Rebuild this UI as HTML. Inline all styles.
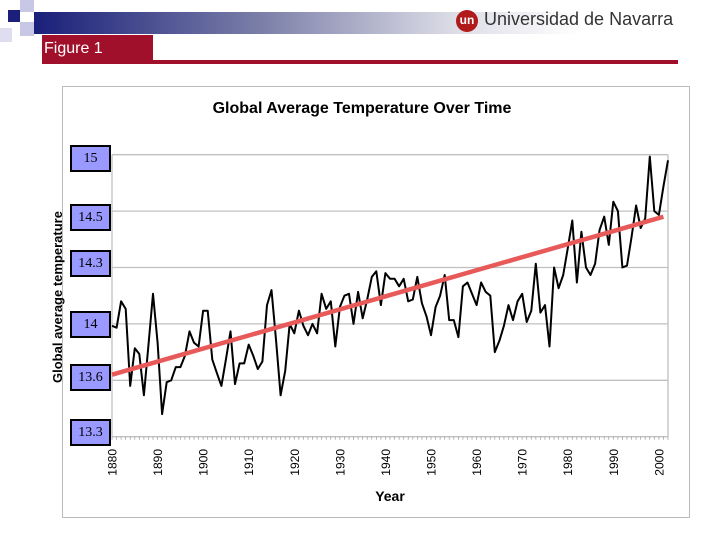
<!DOCTYPE html>
<html><head><meta charset="utf-8"><style>
body{margin:0;width:720px;height:540px;background:#fff;overflow:hidden;position:relative;font-family:"Liberation Sans",sans-serif}
.sq{position:absolute}
.lbl{position:absolute;left:70px;width:37px;height:23px;background:#9999ff;border:2px solid #000;font-family:"Liberation Serif",serif;font-size:14px;line-height:23px;text-align:center;color:#000}
</style></head><body>
<div class="sq" style="left:8px;top:10px;width:12px;height:12px;background:#1a1f7a"></div>
<div class="sq" style="left:20px;top:0;width:14px;height:12px;background:#c8c8e6"></div>
<div class="sq" style="left:20px;top:22px;width:14px;height:14px;background:#c8c8e6"></div>
<div class="sq" style="left:0;top:28px;width:12px;height:14px;background:#dedef0"></div>
<div style="position:absolute;left:34px;top:12px;width:644px;height:22px;background:linear-gradient(90deg,#1a1f7a 0%,#7a7ea8 35%,#dcdce6 65%,#fff 85%)"></div>
<div style="position:absolute;left:456px;top:10px;width:22px;height:22px;border-radius:50%;background:#b01a1a;color:#fff;font-size:12px;font-weight:bold;line-height:21px;text-align:center">un</div>
<div style="position:absolute;left:484px;top:9px;font-size:18px;color:#333">Universidad de Navarra</div>
<div style="position:absolute;left:42px;top:35px;width:109px;height:27px;background:#a0102a;color:#fff;font-size:16px;line-height:28px;padding-left:2px">Figure 1</div>
<div style="position:absolute;left:42px;top:60px;width:636px;height:4px;background:#a0102a"></div>
<div style="position:absolute;left:62px;top:86px;width:628px;height:432px;border:1px solid #bbb;box-sizing:border-box"></div>
<svg id="chart" width="720" height="540" style="position:absolute;left:0;top:0"></svg>
<div class="lbl" style="top:145px">15</div>
<div class="lbl" style="top:204px">14.5</div>
<div class="lbl" style="top:250px">14.3</div>
<div class="lbl" style="top:311px">14</div>
<div class="lbl" style="top:364px">13.6</div>
<div class="lbl" style="top:419px">13.3</div>
<script>
const startYear=1880;
const temps=[14.09,14.08,14.22,14.18,13.77,13.97,13.94,13.72,13.99,14.26,14.00,13.62,13.79,13.80,13.87,13.87,13.93,14.06,14.00,13.98,14.17,14.17,13.91,13.84,13.77,13.91,14.06,13.78,13.89,13.89,13.99,13.93,13.86,13.90,14.20,14.28,14.01,13.72,13.85,14.10,14.05,14.17,14.09,14.04,14.10,14.05,14.26,14.18,14.22,13.98,14.19,14.25,14.26,14.10,14.27,14.13,14.23,14.35,14.38,14.20,14.37,14.34,14.34,14.30,
14.34,14.22,14.23,14.35,14.21,14.14,14.04,14.19,14.25,14.36,14.12,14.12,14.03,14.30,14.32,14.26,14.20,14.32,14.27,14.25,13.95,14.01,14.09,14.20,14.12,14.22,14.26,14.11,14.17,14.42,14.16,14.20,13.98,14.40,14.29,14.36,14.50,14.65,14.32,14.59,14.40,14.36,14.42,14.60,14.67,14.52,14.75,14.70,14.40,14.41,14.56,14.73,14.61,14.66,14.99,14.70,14.68,14.83,14.97];
const trendYears=[1880,2001];
const trendValues=[13.83,14.67];
const xTicks=[1880,1890,1900,1910,1920,1930,1940,1950,1960,1970,1980,1990,2000];
const yGrid=[13.5,13.8,14.1,14.4,14.7,15.0];
const NS='http://www.w3.org/2000/svg';
const svg=document.getElementById('chart');
const L=112,R=668,T=154.7,B=436.7;
const x=y=>L+(y-1880)*(R-L)/122;
const yv=v=>B-(v-13.5)*(B-T)/1.5;
function mk(t,a){const e=document.createElementNS(NS,t);for(const k in a)e.setAttribute(k,a[k]);svg.appendChild(e);return e;}
yGrid.forEach(v=>{const e=mk('line',{x1:L,x2:R,y1:yv(v),y2:yv(v),stroke:'#c0c0c0','stroke-width':1.3});

});
let e=mk('line',{x1:L,x2:L,y1:T,y2:B,stroke:'#c0c0c0','stroke-width':1.3});


e=mk('line',{x1:R,x2:R,y1:T,y2:B,stroke:'#c0c0c0','stroke-width':1.3});


for(let yr=1880;yr<=2002;yr++){const t=mk('line',{x1:x(yr),x2:x(yr),y1:B,y2:B+3,stroke:'#999','stroke-width':0.7});

}
xTicks.forEach(yr=>{const t=mk('text',{x:0,y:0,transform:`translate(${x(yr)+4.5},449) rotate(-90)`,'text-anchor':'end','font-size':12,fill:'#000','font-family':'Liberation Sans, sans-serif'});t.textContent=yr;

});
const pts=temps.map((v,i)=>x(startYear+i).toFixed(1)+','+yv(v).toFixed(1)).join(' ');
e=mk('polyline',{points:pts,fill:'none',stroke:'#000','stroke-width':2,'stroke-linejoin':'round'});


e=mk('line',{x1:x(trendYears[0]),y1:yv(trendValues[0]),x2:x(trendYears[1]),y2:yv(trendValues[1]),stroke:'#e85a5a','stroke-width':4.5});


e=mk('text',{x:362,y:113,'text-anchor':'middle','font-size':16,'font-weight':'bold','font-family':'Liberation Sans, sans-serif'});e.textContent='Global Average Temperature Over Time';


e=mk('text',{x:0,y:0,transform:'translate(62,297) rotate(-90)','text-anchor':'middle','font-size':13,'font-weight':'bold','font-family':'Liberation Sans, sans-serif'});e.textContent='Global average temperature';


e=mk('text',{x:390,y:501,'text-anchor':'middle','font-size':14,'font-weight':'bold','font-family':'Liberation Sans, sans-serif'});e.textContent='Year';


</script>
</body></html>
